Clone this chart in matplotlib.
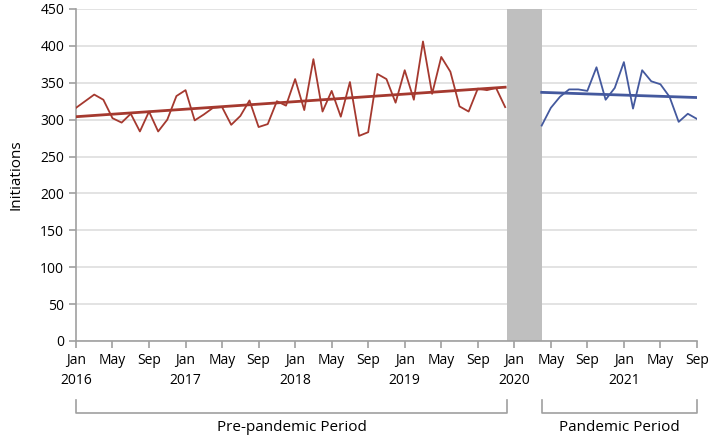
import matplotlib.pyplot as plt

plt.rcParams['font.family'] = ['Open Sans', 'DejaVu Sans']

# monthly initiations, Jan 2016 - Dec 2019 (months 0..47)
pre_months = list(range(0, 48))
pre_values = [316, 325, 334, 327, 302, 296, 308, 284, 311, 284, 300, 332,
              340, 299, 307, 316, 317, 293, 305, 326, 290, 294, 325, 319,
              355, 313, 382, 311, 339, 304, 351, 278, 283, 362, 355, 323,
              367, 327, 406, 335, 385, 365, 318, 311, 342, 340, 343, 317]

# Apr 2020 - Sep 2021 (months 51..68)
pan_months = list(range(51, 69))
pan_values = [292, 316, 331, 341, 341, 339, 371, 327, 343, 378, 315, 367,
              352, 348, 331, 297, 308, 301]

# fitted trend end points
pre_trend = [304, 344]
pan_trend = [337, 330]

tick_pos = list(range(0, 69, 4))
tick_labels = ['Jan\n2016', 'May', 'Sep', 'Jan\n2017', 'May', 'Sep',
               'Jan\n2018', 'May', 'Sep', 'Jan\n2019', 'May', 'Sep',
               'Jan\n2020', 'May', 'Sep', 'Jan\n2021', 'May', 'Sep']

red = '#A5392F'
blue = '#44599E'
axis_col = '#A0A0A0'

fig = plt.figure(figsize=(7.14, 4.41), dpi=100)
ax = fig.add_axes([0.1064, 0.2268, 0.8697, 0.7528])

ax.axvspan(47.2, 51, color='#BFBFBF', lw=0, zorder=1)
ax.plot(pre_months, pre_values, color=red, lw=1.3, zorder=3)
ax.plot([pre_months[0], pre_months[-1]], pre_trend, color=red, lw=2, zorder=4)
ax.plot(pan_months, pan_values, color=blue, lw=1.3, zorder=3)
ax.plot([pan_months[0], pan_months[-1]], pan_trend, color=blue, lw=2, zorder=4)

ax.set_xlim(0, 68)
ax.set_ylim(0, 450)
ax.set_yticks(range(0, 451, 50))
ax.set_xticks(tick_pos)
ax.set_xticklabels(tick_labels, linespacing=1.45)
ax.grid(axis='y', color='#DEDEDE', lw=1.2, zorder=0)
ax.set_axisbelow(True)

for s in ['top', 'right']:
    ax.spines[s].set_visible(False)
for s in ['left', 'bottom']:
    ax.spines[s].set_color(axis_col)
    ax.spines[s].set_linewidth(1.2)
ax.tick_params(colors=axis_col, length=5, width=1.2, labelcolor='black',
               labelsize=10)
ax.tick_params(axis='x', pad=4)
ax.set_ylabel('Initiations', fontsize=11, labelpad=12)

# period brackets under the axis
tr = ax.get_xaxis_transform()
for x0, x1, label in [(0, 47.2, 'Pre-pandemic Period'), (51, 68, 'Pandemic Period')]:
    ax.plot([x0, x0, x1, x1], [-0.178, -0.217, -0.217, -0.178], color=axis_col,
            lw=1.2, transform=tr, clip_on=False)
    ax.text((x0 + x1) / 2, -0.262, label, transform=tr, ha='center', va='center',
            fontsize=11)

fig.savefig('out.png', dpi=100)
